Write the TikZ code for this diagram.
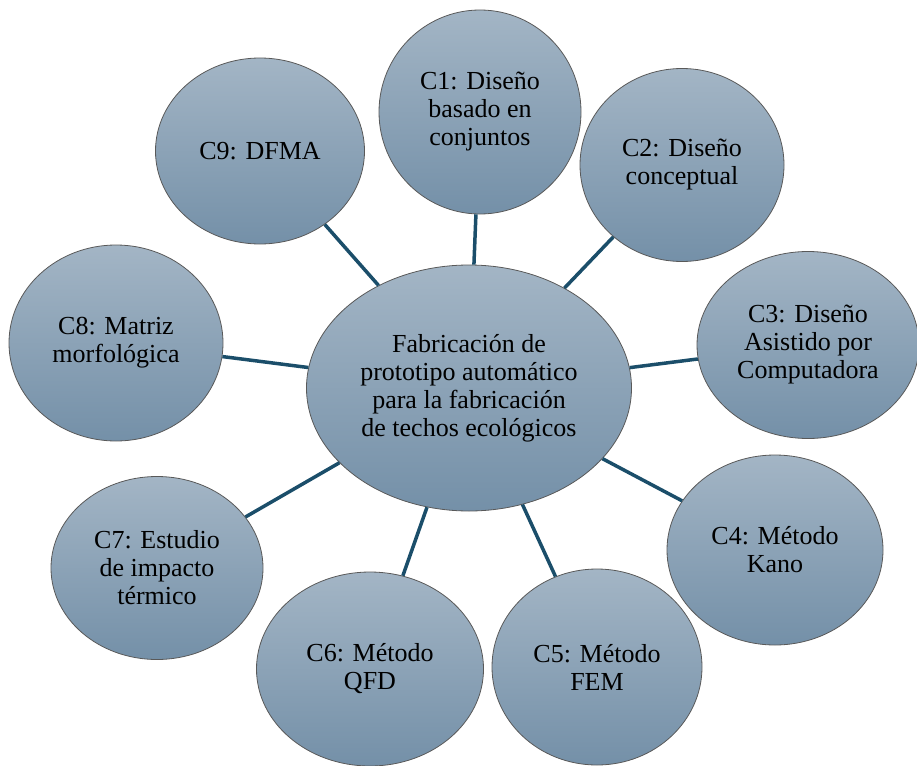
\documentclass[tikz,border=0pt]{standalone}
\usepackage{fontspec}
\setmainfont{Liberation Serif}
\usetikzlibrary{shapes.geometric}

\definecolor{bubtop}{HTML}{A3B5C5}
\definecolor{bubbot}{HTML}{7490A8}
\definecolor{linkc}{HTML}{1B4E6A}

\begin{document}
\begin{tikzpicture}[x=1pt, y=-1pt,
        bubble/.style={ellipse, draw=black!65, line width=0.8pt, top color=bubtop, bottom color=bubbot,
                       inner sep=0pt, align=center, font=\fontsize{26}{28}\selectfont},
        link/.style={draw=linkc, line width=3.5pt}]
        \useasboundingbox (0,0) rectangle (917,765);

        \node[bubble, minimum width=325pt, minimum height=246pt] (ctr) at (469,388)
            {Fabricación de\\prototipo automático\\para la fabricación\\de techos ecológicos};
        \node[bubble, minimum width=202pt, minimum height=204pt] (c1) at (480,112) {C1: Diseño\\basado en\\conjuntos};
        \node[bubble, minimum width=204pt, minimum height=193pt] (c2) at (682,165) {C2: Diseño\\conceptual};
        \node[bubble, minimum width=222pt, minimum height=187pt] (c3) at (808,345) {C3: Diseño\\Asistido por\\Computadora};
        \node[bubble, minimum width=216pt, minimum height=190pt] (c4) at (775,550) {C4: Método\\Kano};
        \node[bubble, minimum width=210pt, minimum height=196pt] (c5) at (597,667) {C5: Método\\FEM};
        \node[bubble, minimum width=227pt, minimum height=194pt] (c6) at (370,669) {C6: Método\\QFD};
        \node[bubble, minimum width=212pt, minimum height=183pt] (c7) at (157,568) {C7: Estudio\\de impacto\\térmico};
        \node[bubble, minimum width=214pt, minimum height=196pt] (c8) at (116,343) {C8: Matriz\\morfológica};
        \node[bubble, minimum width=209pt, minimum height=186pt] (c9) at (260,151) {C9: DFMA};

        \path[link]
        (ctr) edge (c1)
              edge (c2)
              edge (c3)
              edge (c4)
              edge (c5)
              edge (c6)
              edge (c7)
              edge (c8)
              edge (c9);
\end{tikzpicture}
\end{document}
